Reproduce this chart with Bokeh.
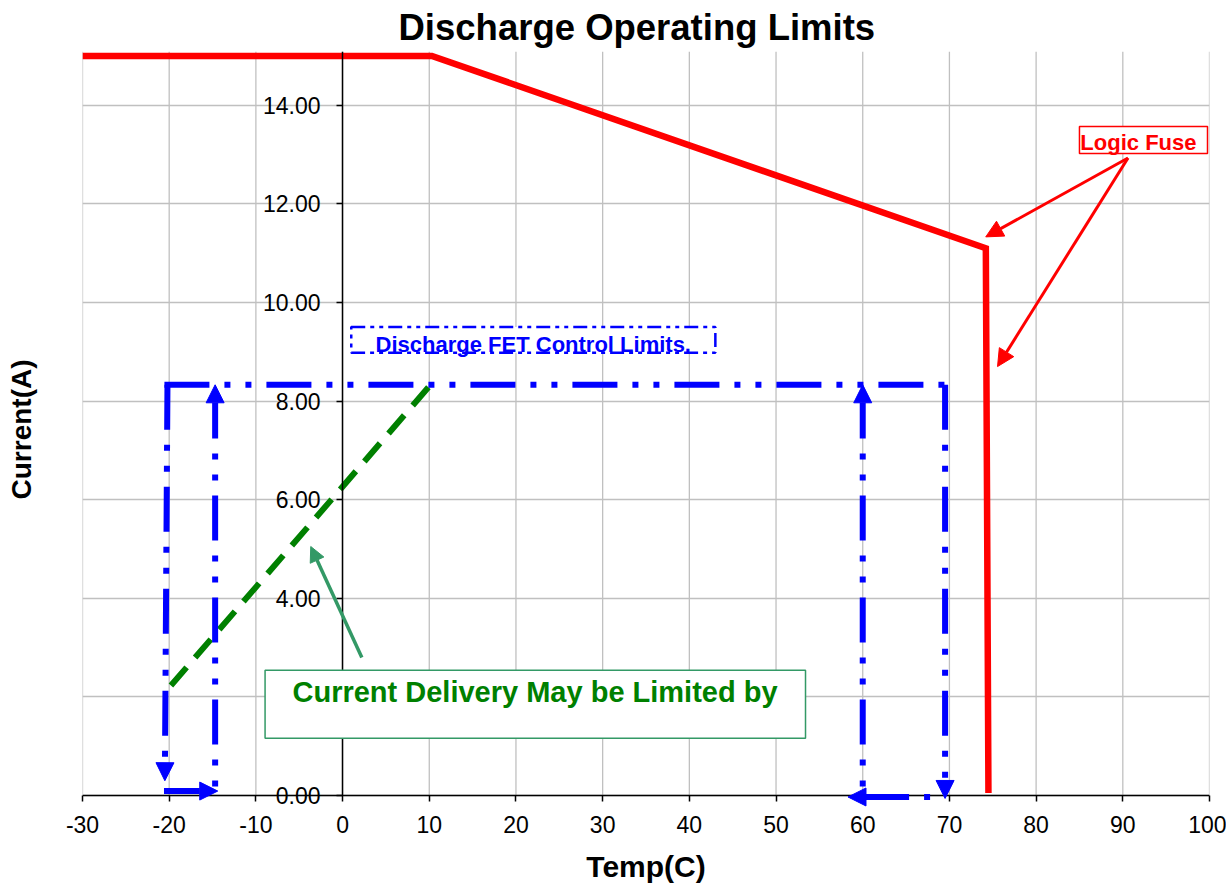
from bokeh.plotting import figure
from bokeh.models import (Range1d, LinearAxis, FixedTicker, PrintfTickFormatter, Arrow,
                          NormalHead, ColumnDataSource, BoxAnnotation, Label, Span)
from bokeh.embed import file_html
from bokeh.resources import INLINE

FONT = "Liberation Sans"

# ---------------- data ----------------
x_ticks = [-30, -20, -10, 0, 10, 20, 30, 40, 50, 60, 70, 80, 90, 100]
x_tick_labels = {t: str(t) for t in x_ticks}
y_ticks = [0, 2, 4, 6, 8, 10, 12, 14]
y_top = 15.09

# Logic fuse limit (red)
fuse_temp = [-30.0, 10.3, 74.2, 74.5]
fuse_current = [15.0, 15.0, 11.1, 0.05]

# Discharge FET control limits (blue) - top edge
fet_top_temp = [-20.55, 69.85]
fet_top_current = [8.33, 8.33]

# FET arrows drawn from their start (down / right)
fet_dn_x0 = [-20.2, -20.6, 69.5]
fet_dn_y0 = [8.33, 0.09, 8.33]
fet_dn_x1 = [-20.5, -14.4, 69.5]
fet_dn_y1 = [0.3, 0.09, -0.06]

# FET arrows pointing up
fet_up_x0 = [-14.7, 60.0]
fet_up_y0 = [0.0, 0.0]
fet_up_x1 = [-14.7, 60.0]
fet_up_y1 = [8.33, 8.33]

# FET arrow pointing left along the bottom
fet_lf_x0 = [69.5]
fet_lf_y0 = [-0.03]
fet_lf_x1 = [58.3]
fet_lf_y1 = [-0.03]

# Current delivery limit (green dashed)
limit_temp = [-19.8, 10.1]
limit_current = [2.23, 8.32]

# annotation arrows
note_x0 = [2.22]
note_y0 = [2.8]
note_x1 = [-3.67]
note_y1 = [5.05]

fuse_note_x0 = [90.6, 90.6]
fuse_note_y0 = [12.93, 12.93]
fuse_note_x1 = [74.19, 75.55]
fuse_note_y1 = [11.33, 8.70]

BLUE = "#0000FF"
RED = "#FF0000"
GREEN = "#008000"
SEA = "#339966"
GRID = "#c0c0c0"
DASHDOT = "45 15 6 15 6 15"

p = figure(width=1226, height=885,
           x_range=Range1d(-30, 100), y_range=Range1d(-0.2434, y_top),
           output_backend="svg", toolbar_location=None,
           min_border_left=82, min_border_right=17,
           min_border_top=51, min_border_bottom=78)
p.outline_line_color = None
p.background_fill_color = "white"
p.border_fill_color = "white"

# title
p.title.text = "Discharge Operating Limits"
p.title.text_font = FONT
p.title.text_font_size = "36.5px"
p.title.text_font_style = "bold"
p.title.text_color = "black"
p.title.align = "left"
p.title.offset = 316
p.title.vertical_align = "bottom"
p.title.standoff = 8

# grid: horizontal via Grid, vertical as segments that stop at the x axis (y = 0)
p.xgrid.visible = False
p.ygrid.ticker = FixedTicker(ticks=y_ticks)
p.ygrid.grid_line_color = GRID
p.ygrid.grid_line_width = 1.3
p.segment(x0=x_ticks, y0=[0] * len(x_ticks), x1=x_ticks, y1=[y_top] * len(x_ticks),
          line_color=GRID, line_width=1.3, level="underlay")

# x axis line at y = 0
p.add_layout(Span(location=0, dimension="width", line_color="black", line_width=1.5,
                  level="guide"))

# x axis (sits at the frame bottom, ticks drawn up to y = 0)
xa = p.xaxis[0]
xa.ticker = FixedTicker(ticks=x_ticks)
xa.major_label_overrides = x_tick_labels
xa.axis_label = "Temp(C)"
xa.axis_label_text_font = FONT
xa.axis_label_text_font_size = "30px"
xa.axis_label_text_font_style = "bold"
xa.axis_label_text_color = "black"
xa.axis_label_standoff = 14
xa.major_label_text_font = FONT
xa.major_label_text_font_size = "23px"
xa.major_label_text_color = "black"
xa.major_label_standoff = 8
xa.axis_line_color = None
xa.major_tick_line_color = "black"
xa.major_tick_line_width = 1.5
xa.major_tick_in = 12
xa.major_tick_out = -6
xa.minor_tick_in = 0
xa.minor_tick_out = 0
xa.minor_tick_line_color = None

# left axis: only the title "Current(A)"
ya = p.yaxis[0]
ya.ticker = FixedTicker(ticks=[])
ya.axis_label = "Current(A)"
ya.axis_label_text_font = FONT
ya.axis_label_text_font_size = "28px"
ya.axis_label_text_font_style = "bold"
ya.axis_label_text_color = "black"
ya.axis_label_standoff = 46
ya.axis_line_color = None
ya.major_tick_line_color = None
ya.minor_tick_line_color = None
ya.major_tick_out = 0
ya.major_label_standoff = 0

# y axis crossing at x = 0
y0 = LinearAxis(fixed_location=0, ticker=FixedTicker(ticks=y_ticks),
                formatter=PrintfTickFormatter(format="%.2f"),
                major_label_overrides={2: ""}, bounds=(0, y_top))
y0.major_label_text_font = FONT
y0.major_label_text_font_size = "23px"
y0.major_label_text_color = "black"
y0.major_label_standoff = 16
y0.axis_line_color = "black"
y0.axis_line_width = 1.5
y0.major_tick_line_color = "black"
y0.major_tick_line_width = 1.5
y0.major_tick_out = 6
y0.major_tick_in = 0
y0.minor_tick_line_color = None
p.add_layout(y0, "left")

# ---------------- series ----------------
p.line(fuse_temp, fuse_current, line_color=RED, line_width=6.5, line_join="miter")
p.line(limit_temp, limit_current, line_color=GREEN, line_width=6, line_dash="24 13")
p.line(fet_top_temp, fet_top_current, line_color=BLUE, line_width=6, line_dash=DASHDOT)


def blue_head():
    return NormalHead(size=18, fill_color=BLUE, line_color=BLUE, line_width=1)


p.add_layout(Arrow(source=ColumnDataSource(dict(x0=fet_dn_x0, y0=fet_dn_y0, x1=fet_dn_x1, y1=fet_dn_y1)),
                   x_start="x0", y_start="y0", x_end="x1", y_end="y1",
                   line_color=BLUE, line_width=6, line_dash=DASHDOT, end=blue_head()))
p.add_layout(Arrow(source=ColumnDataSource(dict(x0=fet_up_x0, y0=fet_up_y0, x1=fet_up_x1, y1=fet_up_y1)),
                   x_start="x0", y_start="y0", x_end="x1", y_end="y1",
                   line_color=BLUE, line_width=6, line_dash=DASHDOT, line_dash_offset=51,
                   end=blue_head()))
p.add_layout(Arrow(source=ColumnDataSource(dict(x0=fet_lf_x0, y0=fet_lf_y0, x1=fet_lf_x1, y1=fet_lf_y1)),
                   x_start="x0", y_start="y0", x_end="x1", y_end="y1",
                   line_color=BLUE, line_width=6, line_dash=DASHDOT, line_dash_offset=66,
                   end=blue_head()))

# annotation arrows
p.add_layout(Arrow(source=ColumnDataSource(dict(x0=note_x0, y0=note_y0, x1=note_x1, y1=note_y1)),
                   x_start="x0", y_start="y0", x_end="x1", y_end="y1",
                   line_color=SEA, line_width=3.5,
                   end=NormalHead(size=15, fill_color=SEA, line_color=SEA, line_width=1)))
p.add_layout(Arrow(source=ColumnDataSource(dict(x0=fuse_note_x0, y0=fuse_note_y0, x1=fuse_note_x1, y1=fuse_note_y1)),
                   x_start="x0", y_start="y0", x_end="x1", y_end="y1",
                   line_color=RED, line_width=3,
                   end=NormalHead(size=17, fill_color=RED, line_color=RED, line_width=1)))

# ---------------- text boxes ----------------
p.add_layout(BoxAnnotation(left=-8.94, right=53.4, bottom=1.16, top=2.54,
                           fill_color="white", fill_alpha=1.0,
                           line_color=SEA, line_width=1.5, line_alpha=1.0))
p.add_layout(Label(x=22.2, y=2.09, text="Current Delivery May be Limited by",
                   text_align="center", text_baseline="middle",
                   text_font=FONT, text_font_size="29px", text_font_style="bold",
                   text_color=GREEN))

p.add_layout(BoxAnnotation(left=1.0, right=43.0, bottom=8.98, top=9.5,
                           fill_color="white", fill_alpha=1.0,
                           line_color=BLUE, line_width=2.5, line_alpha=1.0,
                           line_dash="14 5 4 5 4 5"))
p.add_layout(Label(x=22.0, y=9.15, text="Discharge FET Control Limits.",
                   text_align="center", text_baseline="middle",
                   text_font=FONT, text_font_size="22px", text_font_style="bold",
                   text_color=BLUE))

p.add_layout(BoxAnnotation(left=85.0, right=99.77, bottom=13.02, top=13.57,
                           fill_color="white", fill_alpha=1.0,
                           line_color=RED, line_width=1.5, line_alpha=1.0))
p.add_layout(Label(x=91.8, y=13.24, text="Logic Fuse",
                   text_align="center", text_baseline="middle",
                   text_font=FONT, text_font_size="22px", text_font_style="bold",
                   text_color=RED))

open("out.html", "w").write(file_html(p, INLINE))
